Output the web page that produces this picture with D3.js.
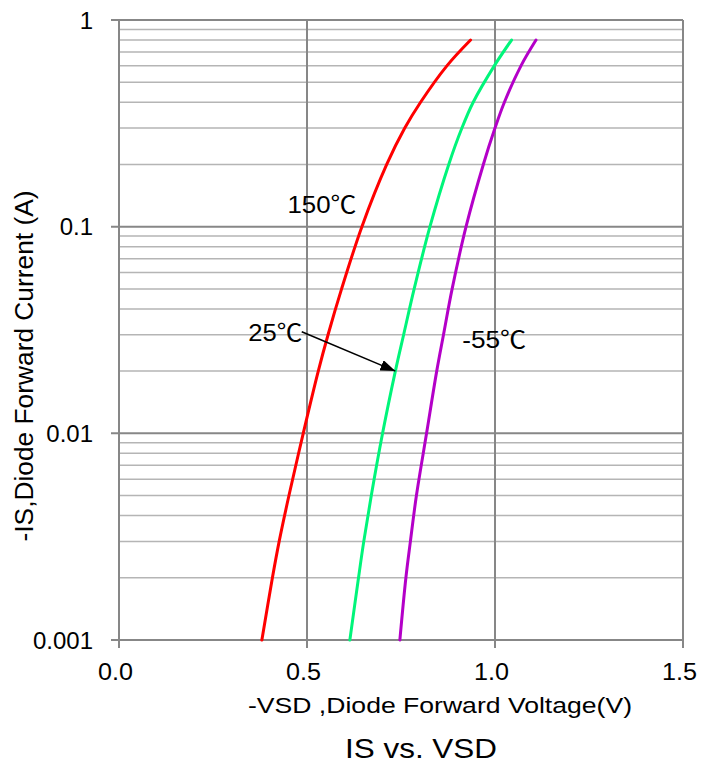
<!DOCTYPE html>
<html>
<head>
<meta charset="utf-8">
<script src="https://cdn.jsdelivr.net/npm/d3@7"></script>
<style>
    body { margin: 0; background: #fff; }
    svg text { font-family: "Liberation Sans", Arial, "Noto Sans CJK SC", sans-serif; fill: #000; }
</style>
</head>
<body>
<div id="chart"></div>
<script>
// forward current points (A) and the voltage (V)
const currents = [0.001, 0.002, 0.003, 0.005, 0.01, 0.02, 0.03, 0.05, 0.1, 0.2, 0.3, 0.4, 0.6, 0.8];
const vsd150 = [0.380, 0.408, 0.426, 0.452, 0.490, 0.530, 0.556, 0.592, 0.646, 0.712, 0.760, 0.802, 0.872, 0.935];
const vsd25 = [0.614, 0.637, 0.651, 0.671, 0.701, 0.735, 0.757, 0.785, 0.827, 0.877, 0.912, 0.942, 0.998, 1.044];
const vsdM55 = [0.747, 0.763, 0.775, 0.791, 0.818, 0.845, 0.863, 0.886, 0.923, 0.969, 1.000, 1.025, 1.069, 1.109];

const seriesNames = ['150℃', '25℃', '-55℃'];
const seriesColors = ['#ff0000', '#00f57a', '#b400c8'];

const xTicks = [0, 0.5, 1.0, 1.5];
const xTickLabels = ['0.0', '0.5', '1.0', '1.5'];
const yTicks = [1, 0.1, 0.01, 0.001];
const yTickLabels = ['1', '0.1', '0.01', '0.001'];

// label anchor points, in data units
const labelV = [0.448, 0.344, 0.913];
const labelI = [0.1165, 0.0280, 0.0258];
const arrowFrom = [0.486, 0.0310];
const arrowTo = [0.735, 0.02];

(function draw() {
    const W = 717, H = 769;
    const margin = { top: 20, right: 34, bottom: 129, left: 119 };

    const svg = d3.select('#chart').append('svg')
        .attr('width', W)
        .attr('height', H);

    const x = d3.scaleLinear().domain([0, 1.5]).range([margin.left, W - margin.right]);
    const y = d3.scaleLog().domain([0.001, 1]).range([H - margin.bottom, margin.top]);

    const majorGray = '#878787';
    const minorGray = '#b5b5b5';

    // minor horizontal grid (2..9 of each decade)
    const minor = [];
    [0.001, 0.01, 0.1].forEach(d => {
        for (let k = 2; k <= 9; k++) minor.push(d * k);
    });
    svg.append('g').selectAll('line')
        .data(minor)
        .enter()
        .append('line')
        .attr('x1', x(0)).attr('x2', x(1.5))
        .attr('y1', d => y(d)).attr('y2', d => y(d))
        .attr('stroke', minorGray)
        .attr('stroke-width', 1.5);

    // major horizontal grid with tick stubs on the left
    svg.append('g').selectAll('line')
        .data(yTicks)
        .enter()
        .append('line')
        .attr('x1', x(0) - 8).attr('x2', x(1.5))
        .attr('y1', d => y(d)).attr('y2', d => y(d))
        .attr('stroke', majorGray)
        .attr('stroke-width', 2);

    // vertical grid with tick stubs below
    svg.append('g').selectAll('line')
        .data(xTicks)
        .enter()
        .append('line')
        .attr('x1', d => x(d)).attr('x2', d => x(d))
        .attr('y1', y(1)).attr('y2', y(0.001) + 8)
        .attr('stroke', majorGray)
        .attr('stroke-width', 2);

    // tick labels
    svg.append('g').selectAll('text')
        .data(yTicks)
        .enter()
        .append('text')
        .attr('x', x(0) - 26)
        .attr('y', d => y(d) + 8.5)
        .attr('text-anchor', 'end')
        .attr('font-size', 24)
        .text((d, i) => yTickLabels[i]);

    svg.append('g').selectAll('text')
        .data(xTicks)
        .enter()
        .append('text')
        .attr('x', d => x(d) - 3.5)
        .attr('y', y(0.001) + 40)
        .attr('text-anchor', 'middle')
        .attr('font-size', 24)
        .attr('textLength', 35)
        .attr('lengthAdjust', 'spacingAndGlyphs')
        .text((d, i) => xTickLabels[i]);

    // curves
    const line = d3.line()
        .x(d => x(d[0]))
        .y(d => y(d[1]))
        .curve(d3.curveCatmullRom.alpha(0.5));

    [vsd150, vsd25, vsdM55].forEach((vals, s) => {
        svg.append('path')
            .datum(vals.map((v, i) => [v, currents[i]]))
            .attr('fill', 'none')
            .attr('stroke', seriesColors[s])
            .attr('stroke-width', 3)
            .attr('stroke-linecap', 'round')
            .attr('d', line);
    });

    // curve labels
    const labelWidths = [69, 54, 64];
    svg.append('g').selectAll('text')
        .data(seriesNames)
        .enter()
        .append('text')
        .attr('x', (d, i) => x(labelV[i]))
        .attr('y', (d, i) => y(labelI[i]))
        .attr('font-size', 24)
        .attr('textLength', (d, i) => labelWidths[i])
        .attr('lengthAdjust', 'spacingAndGlyphs')
        .text(d => d);

    // arrow from "25℃" to the green curve
    svg.append('defs').append('marker')
        .attr('id', 'arrowhead')
        .attr('viewBox', '0 0 10 10')
        .attr('refX', 10).attr('refY', 5)
        .attr('markerWidth', 15).attr('markerHeight', 11)
        .attr('markerUnits', 'userSpaceOnUse')
        .attr('orient', 'auto')
        .attr('preserveAspectRatio', 'none')
        .append('path')
        .attr('d', 'M0,0 L10,5 L0,10 Z')
        .attr('fill', '#000');

    svg.append('line')
        .attr('x1', x(arrowFrom[0])).attr('y1', y(arrowFrom[1]))
        .attr('x2', x(arrowTo[0])).attr('y2', y(arrowTo[1]))
        .attr('stroke', '#000')
        .attr('stroke-width', 1.6)
        .attr('marker-end', 'url(#arrowhead)');

    // axis titles
    svg.append('text')
        .attr('x', 248)
        .attr('y', 713)
        .attr('font-size', 22)
        .attr('textLength', 384)
        .attr('lengthAdjust', 'spacingAndGlyphs')
        .text('-VSD ,Diode Forward Voltage(V)');

    svg.append('text')
        .attr('transform', 'translate(33,366) rotate(-90)')
        .attr('text-anchor', 'middle')
        .attr('font-size', 25)
        .attr('textLength', 351)
        .attr('lengthAdjust', 'spacingAndGlyphs')
        .text('-IS,Diode Forward Current (A)');

    svg.append('text')
        .attr('x', 345)
        .attr('y', 758)
        .attr('font-size', 28)
        .attr('textLength', 152)
        .attr('lengthAdjust', 'spacingAndGlyphs')
        .text('IS vs. VSD');
})();
</script>
</body>
</html>
